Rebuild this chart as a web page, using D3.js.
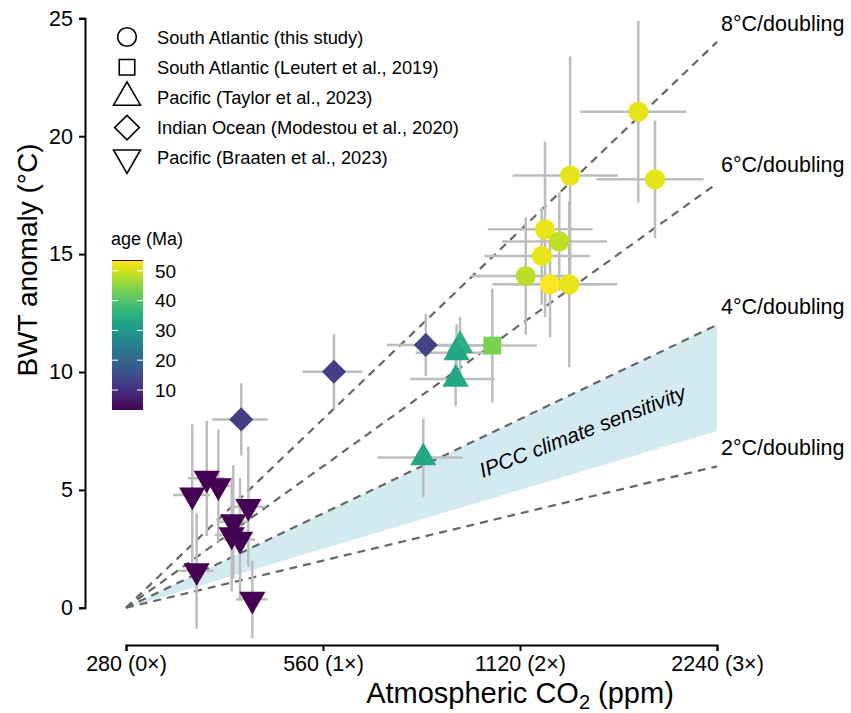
<!DOCTYPE html>
<html>
<head>
<meta charset="utf-8">
<script src="https://cdn.jsdelivr.net/npm/d3@7"></script>
<style>
  body { margin: 0; background: #fff; }
  svg text { font-family: "Liberation Sans", Arial, sans-serif; }
</style>
</head>
<body>
<script>
// dataset names + marker shapes (legend order)
var groups = ["South Atlantic (this study)", "South Atlantic (Leutert et al., 2019)",
  "Pacific (Taylor et al., 2023)", "Indian Ocean (Modestou et al., 2020)", "Pacific (Braaten et al., 2023)"];
var shapes = ["circle", "square", "triangle", "diamond", "triangleDown"];

// one entry per point: co2 (ppm), co2 error, BWT anomaly, BWT error, age (Ma), group index
var co2 =    [1698, 1336, 1801, 1223, 1286, 1209, 1143, 1245, 1332,  1016,  907, 896, 893, 797,  420, 582, 804,  353.5, 372, 387.5, 430.6, 408.4, 406.1, 418.2, 359, 436.7];
var co2Err = [313, 245, 335, 223, 235, 221, 200, 229, 245,  172,  120, 120, 132, 119,  41, 61, 103,  23, 24, 23, 27, 23, 23, 23, 22, 24];
var bwt =    [21.04, 18.33, 18.17, 16.05, 15.53, 14.92, 14.07, 13.72, 13.72,  11.12,  11.13, 10.82, 9.70, 6.37,  7.99, 10.01, 11.15,  4.78, 5.49, 5.17, 4.29, 3.65, 3.09, 2.90, 1.57, 0.36];
var bwtErr = [3.85, 5.05, 2.5, 3.72, 2.08, 2.07, 2.49, 2.25, 3.52,  2.42,  1.2, 1.2, 1.15, 1.66,  1.53, 1.59, 1.31,  3.0, 2.45, 2.4, 2.55, 2.4, 2.4, 2.6, 2.45, 1.65];
var age =    [51.6, 51.6, 51.6, 51.9, 48.6, 52, 48.3, 53.6, 52,  43.5,  35.5, 33.5, 33.5, 33.5,  12.5, 12.5, 13.5,  3.3, 3.3, 3.3, 3.3, 3.3, 3.3, 3.3, 3.3, 3.3];
var group =  [0, 0, 0, 0, 0, 0, 0, 0, 0,  1,  2, 2, 2, 2,  3, 3, 3,  4, 4, 4, 4, 4, 4, 4, 4, 4];

// climate sensitivity guide lines (°C per doubling) and IPCC likely range
var sensitivities = [8, 6, 4, 2];
var ipccRange = [2.5, 4];
var xTicks = [280, 560, 1120, 2240];
var yTicks = [0, 5, 10, 15, 20, 25];
var ageTicks = [10, 20, 30, 40, 50];

var points = co2.map(function(c, i) {
  return {co2: c, co2Err: co2Err[i], bwt: bwt[i], bwtErr: bwtErr[i], age: age[i], group: group[i]};
});

var width = 851, height = 713;

var svg = d3.select("body").append("svg")
  .attr("width", width)
  .attr("height", height);

var x = d3.scaleLog().base(2).domain([280, 2240]).range([126, 717]);
var y = d3.scaleLinear().domain([0, 25]).range([607.8, 18.3]);
var doublings = function(c) { return Math.log2(c / 280); };

var ageExtent = d3.extent(age);
var color = d3.scaleSequential(d3.interpolateViridis).domain(ageExtent);

// IPCC band
svg.append("path")
  .attr("d", d3.line()([
    [x(280), y(0)],
    [x(2240), y(ipccRange[1] * doublings(2240))],
    [x(2240), y(ipccRange[0] * doublings(2240))]
  ]) + "Z")
  .style("fill", "#d4eaf1");

// dashed sensitivity lines + labels on the right
svg.selectAll(".sens")
  .data(sensitivities)
  .enter().append("line")
  .attr("class", "sens")
  .attr("x1", x(280)).attr("y1", y(0))
  .attr("x2", x(2240)).attr("y2", function(d) { return y(d * doublings(2240)); })
  .style("stroke", "#666")
  .style("stroke-width", 2.2)
  .style("stroke-dasharray", "8,6");

svg.selectAll(".senslabel")
  .data(sensitivities)
  .enter().append("text")
  .attr("x", x(2240) + 4)
  .attr("y", function(d) { return y(d * doublings(2240)) - 11; })
  .style("font-size", "21.5px")
  .text(function(d) { return d + "°C/doubling"; });

// IPCC label along the band
var ipccX = 585;
var ipccAngle = -Math.atan((y(0) - y(3.25 * 3)) / (x(2240) - x(280))) * 180 / Math.PI;
svg.append("text")
  .attr("transform", "translate(" + ipccX + "," + (y(3.25 * doublings(x.invert(ipccX))) + 9) + ") rotate(" + ipccAngle + ")")
  .attr("text-anchor", "middle")
  .style("font-size", "21px")
  .style("font-style", "italic")
  .text("IPCC climate sensitivity");

// error bars
var bars = svg.append("g")
  .style("stroke", "#bdbdbd")
  .style("stroke-width", 2.5);

bars.selectAll(".ebx")
  .data(points)
  .enter().append("line")
  .attr("x1", function(d) { return x(d.co2 - d.co2Err); })
  .attr("x2", function(d) { return x(d.co2 + d.co2Err); })
  .attr("y1", function(d) { return y(d.bwt); })
  .attr("y2", function(d) { return y(d.bwt); });

bars.selectAll(".eby")
  .data(points)
  .enter().append("line")
  .attr("x1", function(d) { return x(d.co2); })
  .attr("x2", function(d) { return x(d.co2); })
  .attr("y1", function(d) { return y(d.bwt - d.bwtErr); })
  .attr("y2", function(d) { return y(d.bwt + d.bwtErr); });

// marker path for each shape
function symbolPath(shape, scale) {
  if (shape == "circle") return d3.symbol(d3.symbolCircle, 320 * scale)();
  if (shape == "square") return d3.symbol(d3.symbolSquare, 320 * scale)();
  if (shape == "diamond") return d3.symbol(d3.symbolSquare, 290 * scale)();
  return d3.symbol(d3.symbolTriangle, 300 * scale)();
}
function symbolRotate(shape) {
  if (shape == "diamond") return 45;
  if (shape == "triangleDown") return 180;
  return 0;
}

svg.selectAll(".pt")
  .data(points)
  .enter().append("path")
  .attr("class", "pt")
  .attr("d", function(d) { return symbolPath(shapes[d.group], 1); })
  .attr("transform", function(d) {
    return "translate(" + x(d.co2) + "," + y(d.bwt) + ") rotate(" + symbolRotate(shapes[d.group]) + ")";
  })
  .style("fill", function(d) { return color(d.age); });

// axes
var xAxis = svg.append("g")
  .attr("transform", "translate(0,645)")
  .call(d3.axisBottom(x).tickValues(xTicks).tickSizeOuter(0).tickSize(6).tickPadding(5)
    .tickFormat(function(d) { return d + " (" + doublings(d) + "×)"; }));

var yAxis = svg.append("g")
  .attr("transform", "translate(85,0)")
  .call(d3.axisLeft(y).tickValues(yTicks).tickSizeOuter(0).tickSize(6).tickPadding(6));

[xAxis, yAxis].forEach(function(a) {
  a.select(".domain").style("stroke", "#000").style("stroke-width", 2);
  a.selectAll(".tick line").style("stroke", "#000").style("stroke-width", 2);
  a.selectAll(".tick text").style("font-size", "21.5px").style("fill", "#000")
    .style("font-family", "'Liberation Sans', Arial, sans-serif");
});

// axis titles
var xTitle = svg.append("text")
  .attr("x", 520)
  .attr("y", 703)
  .attr("text-anchor", "middle")
  .style("font-size", "29px");
xTitle.append("tspan").text("Atmospheric CO");
xTitle.append("tspan").attr("dy", 6).style("font-size", "20px").text("2");
xTitle.append("tspan").attr("dy", -6).text(" (ppm)");

svg.append("text")
  .attr("transform", "translate(37,260) rotate(-90)")
  .attr("text-anchor", "middle")
  .style("font-size", "28px")
  .text("BWT anomaly (°C)");

// shape legend
var legend = svg.append("g");
var legendRow = legend.selectAll(".lg")
  .data(groups)
  .enter().append("g")
  .attr("transform", function(d, i) { return "translate(127," + (37 + i * 30.2) + ")"; });

legendRow.append("path")
  .attr("d", function(d, i) { return symbolPath(shapes[i], i == 0 ? 0.85 : (i == 1 ? 0.75 : 1.05)); })
  .attr("transform", function(d, i) { return "rotate(" + symbolRotate(shapes[i]) + ")"; })
  .style("fill", "none")
  .style("stroke", "#000")
  .style("stroke-width", 1.6);

legendRow.append("text")
  .attr("x", 30)
  .attr("dy", "0.36em")
  .style("font-size", "18.3px")
  .text(function(d) { return d; });

// age colour bar
var cbTop = 260, cbBottom = 410, cbLeft = 112, cbWidth = 31;
var ageY = d3.scaleLinear().domain(ageExtent).range([cbBottom, cbTop]);

var defs = svg.append("defs");
var grad = defs.append("linearGradient")
  .attr("id", "agegrad")
  .attr("x1", 0).attr("y1", 1).attr("x2", 0).attr("y2", 0);
grad.selectAll("stop")
  .data(d3.range(0, 1.0001, 0.05))
  .enter().append("stop")
  .attr("offset", function(d) { return d; })
  .attr("stop-color", function(d) { return d3.interpolateViridis(d); });

svg.append("rect")
  .attr("x", cbLeft).attr("y", cbTop)
  .attr("width", cbWidth).attr("height", cbBottom - cbTop)
  .style("fill", "url(#agegrad)");

svg.append("line")
  .attr("x1", cbLeft).attr("x2", cbLeft + cbWidth)
  .attr("y1", cbTop + 0.5).attr("y2", cbTop + 0.5)
  .style("stroke", "#440154").style("stroke-width", 1);

var cbTicks = svg.append("g").selectAll("g")
  .data(ageTicks)
  .enter().append("g")
  .attr("transform", function(d) { return "translate(0," + ageY(d) + ")"; });

cbTicks.append("line")
  .attr("x1", cbLeft).attr("x2", cbLeft + 6)
  .style("stroke", "#fff").style("stroke-width", 1);
cbTicks.append("line")
  .attr("x1", cbLeft + cbWidth - 6).attr("x2", cbLeft + cbWidth)
  .style("stroke", "#fff").style("stroke-width", 1);
cbTicks.append("text")
  .attr("x", cbLeft + cbWidth + 12)
  .attr("dy", "0.36em")
  .style("font-size", "19px")
  .text(function(d) { return d; });

svg.append("text")
  .attr("x", 111)
  .attr("y", 245)
  .style("font-size", "18px")
  .text("age (Ma)");
</script>
</body>
</html>
